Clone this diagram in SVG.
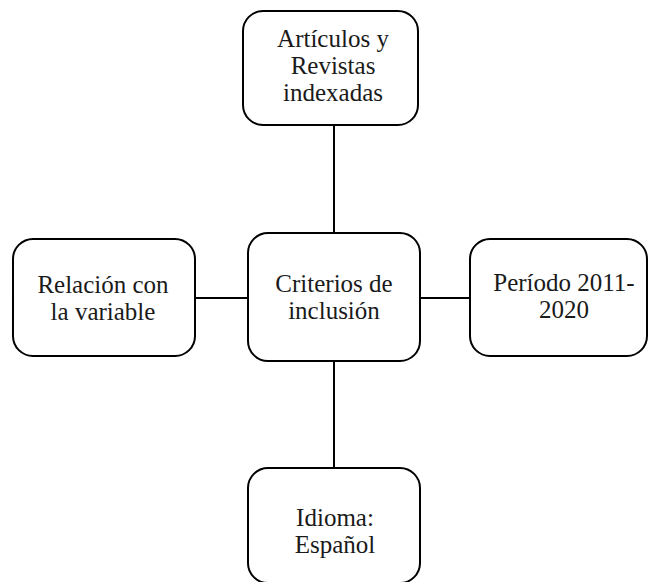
<svg xmlns="http://www.w3.org/2000/svg" width="650" height="582" viewBox="0 0 650 582">
<style>
.box{fill:#fff;stroke:#000;stroke-width:2}
.lbl{font-family:'Liberation Serif','DejaVu Serif',serif;font-size:25px;fill:#1a1a1a;text-anchor:middle}
.con{stroke:#000;stroke-width:2;fill:none}
</style>
<rect width="650" height="582" fill="#fff"/>
<g id="connectors">
<line class="con" x1="334" y1="125" x2="334" y2="233"/>
<line class="con" x1="334" y1="361" x2="334" y2="468"/>
<line class="con" x1="195" y1="298" x2="248" y2="298"/>
<line class="con" x1="420" y1="298" x2="470" y2="298"/>
</g>
<g id="n-top">
<rect class="box" x="243" y="11" width="175" height="114" rx="20"/>
<text class="lbl" x="333" y="47">Artículos y</text>
<text class="lbl" x="333" y="74">Revistas</text>
<text class="lbl" x="333" y="101">indexadas</text>
</g>
<g id="n-center">
<rect class="box" x="248" y="233" width="172" height="128" rx="20"/>
<text class="lbl" x="334" y="292">Criterios de</text>
<text class="lbl" x="334" y="319">inclusión</text>
</g>
<g id="n-left">
<rect class="box" x="13" y="239" width="182" height="117" rx="20"/>
<text class="lbl" x="103" y="293">Relación con</text>
<text class="lbl" x="103" y="320">la variable</text>
</g>
<g id="n-right">
<rect class="box" x="470" y="239" width="177" height="117" rx="20"/>
<text class="lbl" x="564" y="291">Período 2011-</text>
<text class="lbl" x="564" y="318">2020</text>
</g>
<g id="n-bottom">
<rect class="box" x="248" y="468" width="172" height="115" rx="20"/>
<text class="lbl" x="335" y="526">Idioma:</text>
<text class="lbl" x="335" y="553">Español</text>
</g>
</svg>
